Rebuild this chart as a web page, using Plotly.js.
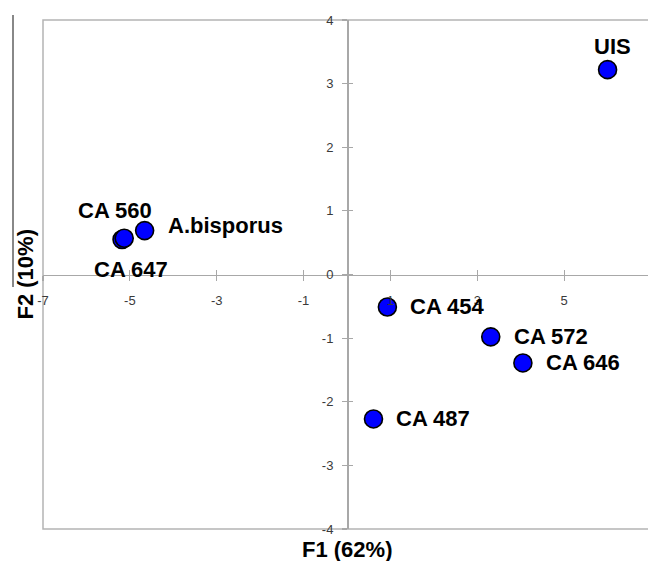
<!DOCTYPE html>
<html>
<head>
<meta charset="utf-8">
<script src="https://cdn.plot.ly/plotly-3.0.1.min.js"></script>
<style>
html,body{margin:0;padding:0;overflow:hidden;background:#fff;}
#chart{width:660px;height:561px;}
</style>
</head>
<body>
<div id="chart"></div>
<script>
// ---- data ----
var samples = ['UIS', 'CA 647', 'CA 560', 'A.bisporus', 'CA 454', 'CA 572', 'CA 646', 'CA 487'];
var f1 = [6.00, -5.18, -5.13, -4.66, 0.93, 3.31, 4.05, 0.61];
var f2 = [3.22, 0.55, 0.57, 0.69, -0.51, -0.98, -1.39, -2.27];
var xTicks = [-7, -5, -3, -1, 1, 3, 5];
var xTickLabels = ['-7', '-5', '-3', '-1', '1', '3', '5'];
var yTicks = [-4, -3, -2, -1, 0, 1, 2, 3, 4];
var yTickLabels = ['-4', '-3', '-2', '-1', '0', '1', '2', '3', '4'];
var xTitle = 'F1 (62%)';
var yTitle = 'F2 (10%)';

// label placement (style only): [xshift, yshift, anchor]
var labelPlace = {
  'UIS':        [5, 23, 'center'],
  'CA 647':     [9, -30, 'center'],
  'CA 560':     [-9, 28, 'center'],
  'A.bisporus': [21, 5, 'left'],
  'CA 454':     [21, 0, 'left'],
  'CA 572':     [21, 0, 'left'],
  'CA 646':     [21, 0, 'left'],
  'CA 487':     [21, 0, 'left']
};

var labelFont = {family: 'Liberation Sans, Arial, sans-serif', size: 22, color: '#000', weight: 'bold'};
var tickFont = {family: 'Liberation Sans Narrow, Liberation Sans, Arial, sans-serif', size: 13, color: '#3a3a3a'};
var axisCol = '#a8a8a8';

var trace = {
  type: 'scatter', mode: 'markers',
  x: f1, y: f2, text: samples, hoverinfo: 'text',
  marker: {size: 18, color: '#0000ff', line: {color: '#000', width: 1.6}},
  showlegend: false, cliponaxis: false
};
var dummy = {type: 'scatter', mode: 'markers', x: [], y: [], xaxis: 'x2', yaxis: 'y2', showlegend: false, hoverinfo: 'skip'};

var annotations = samples.map(function (s, i) {
  var p = labelPlace[s];
  return {
    x: f1[i], y: f2[i], xref: 'x', yref: 'y', text: s, showarrow: false,
    xanchor: p[2], yanchor: 'middle', xshift: p[0], yshift: p[1], font: labelFont
  };
});
annotations.push({
  x: 0.5, y: 0, xref: 'paper', yref: 'paper', text: xTitle, showarrow: false,
  xanchor: 'center', yanchor: 'top', yshift: -6, font: labelFont
});
annotations.push({
  x: 0, y: 0.5, xref: 'paper', yref: 'paper', text: yTitle, showarrow: false, textangle: -90,
  xanchor: 'center', yanchor: 'middle', xshift: -18, font: labelFont
});

var commonX = {
  range: [-7, 7], domain: [0, 1], anchor: 'free', position: 0.5,
  showgrid: false, zeroline: false, tickmode: 'array', tickvals: xTicks, ticktext: xTickLabels,
  tickcolor: axisCol, ticklen: 5, tickwidth: 1.2, tickfont: tickFont, fixedrange: true
};
var commonY = {
  range: [-4, 4], domain: [0, 1], anchor: 'free', position: 0.5,
  showgrid: false, zeroline: false, tickmode: 'array', tickvals: yTicks, ticktext: yTickLabels,
  tickcolor: axisCol, ticklen: 5, tickwidth: 1.2, tickfont: tickFont, fixedrange: true
};

var layout = {
  width: 660, height: 561,
  margin: {l: 43, r: 9, t: 20, b: 32},
  paper_bgcolor: '#fff', plot_bgcolor: '#fff',
  xaxis: Object.assign({}, commonX, {showline: true, linecolor: axisCol, linewidth: 1.5, ticks: 'outside', ticklabelstandoff: 8}),
  yaxis: Object.assign({}, commonY, {showline: true, linecolor: axisCol, linewidth: 1.5, ticks: 'outside', ticklabelstandoff: 6}),
  xaxis2: Object.assign({}, commonX, {overlaying: 'x', showline: false, ticks: 'inside', showticklabels: false}),
  yaxis2: Object.assign({}, commonY, {overlaying: 'y', showline: false, ticks: 'inside', showticklabels: false}),
  shapes: [
    {type: 'rect', xref: 'paper', yref: 'paper', x0: 0, x1: 1, y0: 0, y1: 1,
     line: {color: '#b4b4b4', width: 1.5}, layer: 'below'},
    {type: 'line', xref: 'paper', yref: 'paper', x0: -30 / 608, x1: -30 / 608, y0: (529 - 287) / 509, y1: (529 - 15) / 509,
     line: {color: '#606060', width: 1.5}}
  ],
  annotations: annotations,
  showlegend: false
};

Plotly.newPlot('chart', [trace, dummy], layout, {displayModeBar: false, staticPlot: true});
</script>
</body>
</html>
